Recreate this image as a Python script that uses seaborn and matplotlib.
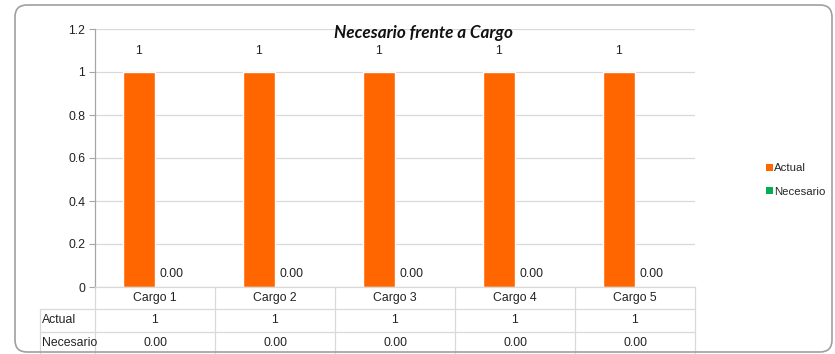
import matplotlib
matplotlib.use("Agg")
import matplotlib.pyplot as plt
from matplotlib import font_manager
from matplotlib.patches import FancyBboxPatch, Patch
from matplotlib.lines import Line2D
from matplotlib.transforms import IdentityTransform, blended_transform_factory
import seaborn as sns
import pandas as pd

# Data
categories = ["Cargo 1", "Cargo 2", "Cargo 3", "Cargo 4", "Cargo 5"]
series_names = ["Actual", "Necesario"]
actual = [1, 1, 1, 1, 1]
necesario = [0, 0, 0, 0, 0]
series_formats = {"Actual": "{:g}", "Necesario": "{:.2f}"}
title = "Necesario frente a Cargo"
colors = {"Actual": "#ff6600", "Necesario": "#00b050"}

df = pd.DataFrame({
    "Cargo": categories * 2,
    "Serie": [series_names[0]] * len(categories) + [series_names[1]] * len(categories),
    "Valor": actual + necesario,
})

sns.set_theme(style="white")
available = {f.name for f in font_manager.fontManager.ttflist}
narrow = "Liberation Sans Narrow" if "Liberation Sans Narrow" in available else "Liberation Sans"
plt.rcParams["font.family"] = [narrow, "DejaVu Sans"]
fs = 9.5 if narrow == "Liberation Sans Narrow" else 8.8
text_c = "#222222"

fig = plt.figure(figsize=(8.35, 3.54), dpi=100)
ax = fig.add_axes([95 / 835, 1 - 287 / 354, 600 / 835, 258 / 354])

sns.barplot(data=df, x="Cargo", y="Valor", hue="Serie", palette=colors,
            width=0.54, gap=0, ax=ax, legend=False, saturation=1)

ax.set_ylim(0, 1.2)
ax.set_yticks([0, 0.2, 0.4, 0.6, 0.8, 1.0, 1.2])
ax.set_yticklabels(["0", "0.2", "0.4", "0.6", "0.8", "1", "1.2"], fontsize=fs, color=text_c)
ax.yaxis.grid(True, color="#d9d9d9", linewidth=0.9)
ax.set_axisbelow(True)
ax.tick_params(axis="y", length=4, width=0.8, color="#a6a6a6", pad=3, left=True)
ax.tick_params(axis="x", length=0, labelbottom=False)
ax.set_xlabel("")
ax.set_ylabel("")
for side in ["top", "right"]:
    ax.spines[side].set_visible(False)
ax.spines["left"].set_color("#a6a6a6")
ax.spines["left"].set_linewidth(0.9)
ax.spines["bottom"].set_color("#d9d9d9")
ax.spines["bottom"].set_linewidth(0.9)

# Value labels above the bars
for cont, name in zip(ax.containers, series_names):
    fmt = series_formats[name]
    pad = 11 if name == "Actual" else 5
    ax.bar_label(cont, labels=[fmt.format(v) for v in cont.datavalues],
                 padding=pad, fontsize=fs, color=text_c)

# Data table beneath the plot
tr = blended_transform_factory(ax.transData, ax.transAxes)
grid_c = "#d9d9d9"
row_h = 22.3 / 258
label_x = -55 / 600
n = len(categories)
y_rows = [0, -row_h, -2 * row_h, -3 * row_h]
for i in range(n + 1):
    ax.add_line(Line2D([i - 0.5, i - 0.5], [0, y_rows[-1]], transform=tr,
                       color=grid_c, lw=0.9, clip_on=False))
ax.add_line(Line2D([label_x, label_x], [y_rows[1], y_rows[-1]], transform=ax.transAxes,
                   color=grid_c, lw=0.9, clip_on=False))
for y in y_rows[1:]:
    ax.add_line(Line2D([label_x, 1], [y, y], transform=ax.transAxes,
                       color=grid_c, lw=0.9, clip_on=False))
for i, cat in enumerate(categories):
    ax.text(i, -row_h / 2, cat, transform=tr, ha="center", va="center",
            fontsize=fs, color=text_c, clip_on=False)
for r, (name, vals) in enumerate(zip(series_names, [actual, necesario]), start=1):
    yc = -row_h * (r + 0.5)
    ax.text(label_x + 0.004, yc, name, transform=ax.transAxes, ha="left", va="center",
            fontsize=fs, color=text_c, clip_on=False)
    for i, v in enumerate(vals):
        ax.text(i, yc, series_formats[name].format(v), transform=tr, ha="center",
                va="center", fontsize=fs, color=text_c, clip_on=False)

# Title
fig.text(424 / 835, 1 - 33 / 354, title, ha="center", va="center", fontsize=12.3,
         fontweight="bold", fontstyle="italic", color="#111111",
         family=["Lato", "DejaVu Sans"])

# Legend
handles = [Patch(facecolor=colors[s], edgecolor="none") for s in series_names]
fig.legend(handles, series_names, loc="center left",
           bbox_to_anchor=(760 / 835, 1 - 180 / 354), frameon=False,
           fontsize=fs - 0.6, handlelength=0.6, handleheight=0.6, handletextpad=0.15,
           labelspacing=1.2, borderpad=0)

# Rounded chart frame
frame = FancyBboxPatch((15, 2), 817, 347, boxstyle="round,pad=0,rounding_size=12",
                       transform=IdentityTransform(), facecolor="none",
                       edgecolor="#a0a0a0", linewidth=1.2)
fig.add_artist(frame)

fig.savefig("out.png", dpi=100)
